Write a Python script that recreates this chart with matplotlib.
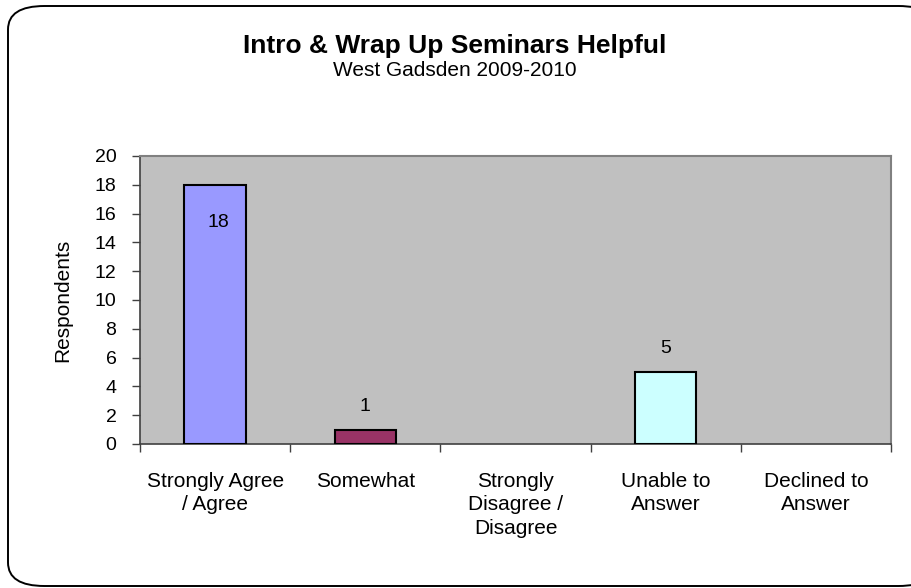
import matplotlib
matplotlib.use("Agg")
import matplotlib.pyplot as plt
from matplotlib.patches import FancyBboxPatch

plt.rcParams['font.family'] = ['Liberation Sans', 'DejaVu Sans']

categories = ["Strongly Agree\n/ Agree", "Somewhat", "Strongly\nDisagree /\nDisagree",
              "Unable to\nAnswer", "Declined to\nAnswer"]
values = [18, 1, 0, 5, 0]
colors = ['#9999FF', '#993366', '#FFFFCC', '#CCFFFF', '#660066']
labels = ["18", "1", "", "5", ""]

W, H = 912, 588
fig = plt.figure(figsize=(W / 100, H / 100), dpi=100)

# rounded chart border, right side runs off the image like the original
frame = FancyBboxPatch((8 / W, 2 / H), (935 - 8) / W, (582 - 2) / H,
                       boxstyle="round,pad=0,rounding_size=0.04",
                       transform=fig.transFigure, facecolor='white',
                       edgecolor='black', linewidth=1.4, zorder=-5)
fig.patches.append(frame)

ax = fig.add_axes([140 / W, 1 - 444 / H, (891 - 140) / W, (444 - 156) / H])
ax.set_facecolor('#C0C0C0')

x = list(range(len(categories)))
edge_w = [1.5 if v > 0 else 0 for v in values]
ax.bar(x, values, width=0.41, color=colors, edgecolor='black', linewidth=edge_w, zorder=3)

for xi, v, lab in zip(x, values, labels):
    if not lab:
        continue
    if v > 15:
        ax.text(xi + 0.02, v - 2.6, lab, ha='center', va='center', fontsize=14)
    else:
        ax.text(xi, v + 1.6, lab, ha='center', va='center', fontsize=14)

ax.set_xlim(-0.5, len(categories) - 0.5)
ax.set_ylim(0, 20)
ax.set_yticks(range(0, 21, 2))
ax.set_xticks([i - 0.5 for i in range(len(categories) + 1)], minor=False)
ax.set_xticklabels([])
ax.set_xticks(x, minor=True)
ax.set_xticklabels(categories, minor=True, fontsize=15, linespacing=1.3)
ax.tick_params(axis='x', which='minor', length=0, pad=20)
ax.tick_params(axis='x', which='major', length=6, direction='out', width=1, color='#404040')
ax.tick_params(axis='y', length=6, direction='out', width=1, color='#404040', labelsize=14, pad=11)

for s in ['top', 'right']:
    ax.spines[s].set_color('#808080')
    ax.spines[s].set_linewidth(1.5)
for s in ['left', 'bottom']:
    ax.spines[s].set_color('#404040')
    ax.spines[s].set_linewidth(1.2)

ax.set_ylabel("Respondents", fontsize=15, labelpad=16)

fig.text(455 / W, 1 - 46 / H, "Intro & Wrap Up Seminars Helpful", ha='center', va='center',
         fontsize=19, fontweight='bold')
fig.text(455 / W, 1 - 70 / H, "West Gadsden 2009-2010", ha='center', va='center', fontsize=15)

fig.savefig("out.png", dpi=100)
